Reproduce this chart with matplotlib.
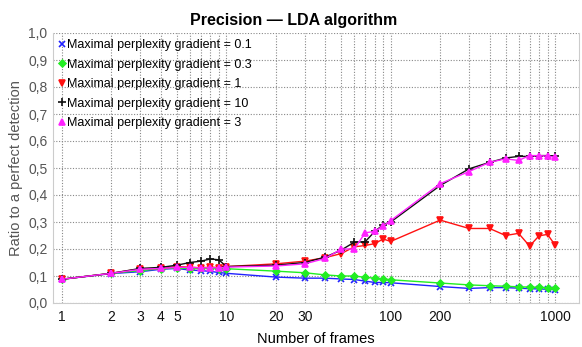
import matplotlib
matplotlib.use("Agg")
import matplotlib.pyplot as plt
from matplotlib.ticker import FixedLocator, FixedFormatter, NullFormatter

plt.rcParams['font.family'] = ['Liberation Sans', 'DejaVu Sans']

frames = [1, 2, 3, 4, 5, 6, 7, 8, 9, 10,
          20, 30, 40, 50, 60, 70, 80, 90, 100,
          200, 300, 400, 500, 600, 700, 800, 900, 1000]

g01 = [0.088, 0.109, 0.116, 0.125, 0.128, 0.122, 0.120, 0.117, 0.113, 0.110,
       0.096, 0.092, 0.092, 0.089, 0.087, 0.081, 0.076, 0.076, 0.075,
       0.061, 0.054, 0.057, 0.057, 0.055, 0.053, 0.052, 0.051, 0.049]
g03 = [0.088, 0.110, 0.120, 0.127, 0.130, 0.127, 0.128, 0.128, 0.127, 0.127,
       0.118, 0.112, 0.104, 0.100, 0.100, 0.095, 0.092, 0.090, 0.086,
       0.074, 0.067, 0.064, 0.062, 0.060, 0.059, 0.058, 0.057, 0.055]
g1 = [0.088, 0.110, 0.127, 0.128, 0.135, 0.133, 0.130, 0.133, 0.131, 0.135,
      0.145, 0.155, 0.168, 0.183, 0.208, 0.213, 0.220, 0.237, 0.228,
      0.307, 0.276, 0.276, 0.250, 0.258, 0.211, 0.249, 0.254, 0.215]
g10 = [0.088, 0.110, 0.128, 0.132, 0.140, 0.150, 0.155, 0.163, 0.160, 0.135,
       0.140, 0.150, 0.170, 0.196, 0.225, 0.227, 0.265, 0.290, 0.300,
       0.435, 0.497, 0.521, 0.537, 0.543, 0.543, 0.546, 0.546, 0.543]
g3 = [0.088, 0.110, 0.125, 0.128, 0.132, 0.132, 0.130, 0.131, 0.130, 0.133,
      0.137, 0.145, 0.165, 0.200, 0.200, 0.260, 0.265, 0.285, 0.305,
      0.442, 0.487, 0.521, 0.534, 0.528, 0.546, 0.546, 0.544, 0.540]

xticks = [1, 2, 3, 4, 5, 10, 20, 30, 100, 200, 1000]
yticks = [0.0, 0.1, 0.2, 0.3, 0.4, 0.5, 0.6, 0.7, 0.8, 0.9, 1.0]

fig = plt.figure(figsize=(5.82, 3.47), dpi=100)
ax = fig.add_axes([53/582, 1 - 303/347, (579-53)/582, (303-33)/347])

series = [
    (g01, 'Maximal perplexity gradient = 0.1', '#2222ff', 'x', 5),
    (g03, 'Maximal perplexity gradient = 0.3', '#22ee22', 'D', 3.5),
    (g1, 'Maximal perplexity gradient = 1', '#ff1111', 'v', 5),
    (g10, 'Maximal perplexity gradient = 10', '#111111', '+', 6),
    (g3, 'Maximal perplexity gradient = 3', '#ff22ff', '^', 5),
]
handles = []
for ys, lab, col, mk, ms in series:
    ax.plot(frames, ys, color=col, lw=1.0)
    h, = ax.plot(frames, ys, color=col, lw=0, marker=mk, ms=ms,
                 markeredgewidth=1.2, label=lab)
    handles.append(h)

ax.set_xscale('log')
ax.set_xlim(0.882, 1399)
ax.set_ylim(0, 1.0)
ax.xaxis.set_major_locator(FixedLocator(xticks))
ax.xaxis.set_major_formatter(FixedFormatter([str(t) for t in xticks]))
minor = [m * 10**e for e in range(0, 3) for m in range(2, 10)]
minor = [m for m in minor if m not in xticks]
ax.xaxis.set_minor_locator(FixedLocator(minor))
ax.xaxis.set_minor_formatter(NullFormatter())
ax.yaxis.set_major_locator(FixedLocator(yticks))
ax.yaxis.set_major_formatter(FixedFormatter([f"{t:.1f}".replace('.', ',') for t in yticks]))

ax.grid(True, which='both', axis='x', color='#888888', ls=(0, (1, 1.5)), lw=0.8)
ax.grid(True, which='major', axis='y', color='#888888', ls=(0, (1, 1.5)), lw=0.8)
ax.tick_params(axis='x', which='both', length=0, labelsize=10, colors='#111111', pad=5)
ax.tick_params(axis='y', which='both', length=0, labelsize=10, colors='#555555', pad=4)
for s in ax.spines.values():
    s.set_color('#cccccc')
    s.set_linewidth(0.8)
ax.spines['top'].set_visible(False)

fig.text(294/582, 1 - 25/347, 'Precision — LDA algorithm', fontsize=11.5,
         fontweight='bold', ha='center', va='baseline')
ax.set_xlabel('Number of frames', fontsize=10.5, labelpad=6)
ax.set_ylabel('Ratio to a perfect detection', fontsize=10.5, color='#555555', labelpad=4)

ax.legend(handles=handles, loc='upper left', frameon=False, fontsize=9,
          handlelength=0.5, handletextpad=0.15, labelspacing=0.6,
          borderaxespad=0.2, borderpad=0.3)

fig.savefig('out.png', dpi=100)
